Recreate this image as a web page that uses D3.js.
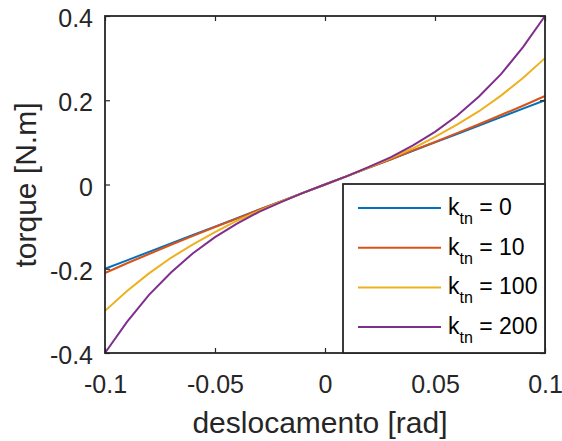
<!DOCTYPE html>
<html>
<head>
<meta charset="utf-8">
<script src="https://cdn.jsdelivr.net/npm/d3@7"></script>
<style>
body { margin: 0; background: #fff; }
svg text { font-family: "Liberation Sans", Arial, sans-serif; fill: #262626; }
</style>
</head>
<body>
<div id="chart"></div>
<script>
var w = 562, h = 441;
var margin = {top: 16, right: 17, bottom: 88, left: 105};

// deslocamento [rad]
var xs = [-0.1, -0.09, -0.08, -0.07, -0.06, -0.05, -0.04, -0.03, -0.02, -0.01, 0,
          0.01, 0.02, 0.03, 0.04, 0.05, 0.06, 0.07, 0.08, 0.09, 0.1];

// torque [N.m] for each k_tn
var t0 = [-0.2, -0.18, -0.16, -0.14, -0.12, -0.1, -0.08, -0.06, -0.04, -0.02, 0,
          0.02, 0.04, 0.06, 0.08, 0.1, 0.12, 0.14, 0.16, 0.18, 0.2];
var t10 = [-0.21, -0.187, -0.165, -0.143, -0.122, -0.101, -0.081, -0.06, -0.04, -0.02, 0,
           0.02, 0.04, 0.06, 0.081, 0.101, 0.122, 0.143, 0.165, 0.187, 0.21];
var t100 = [-0.3, -0.253, -0.211, -0.174, -0.142, -0.113, -0.086, -0.063, -0.041, -0.02, 0,
            0.02, 0.041, 0.063, 0.086, 0.113, 0.142, 0.174, 0.211, 0.253, 0.3];
var t200 = [-0.4, -0.326, -0.262, -0.209, -0.163, -0.125, -0.093, -0.065, -0.042, -0.02, 0,
            0.02, 0.042, 0.065, 0.093, 0.125, 0.163, 0.209, 0.262, 0.326, 0.4];

var labels = ["0", "10", "100", "200"];
var colors = ["#0072BD", "#D95319", "#EDB120", "#7E2F8E"];
var series = [t0, t10, t100, t200];

var xticks = [-0.1, -0.05, 0, 0.05, 0.1];
var yticks = [-0.4, -0.2, 0, 0.2, 0.4];

var width = w - margin.left - margin.right,
    height = h - margin.top - margin.bottom;

var x = d3.scaleLinear().domain([-0.1, 0.1]).range([0, width]);
var y = d3.scaleLinear().domain([-0.4, 0.4]).range([height, 0]);

var svg = d3.select("#chart").append("svg").attr("width", w).attr("height", h);
var main = svg.append("g").attr("transform", "translate(" + margin.left + "," + margin.top + ")");

var fmt = function (d) { return d == 0 ? "0" : String(d); };

// lines
var line = d3.line()
  .x(function (d, i) { return x(xs[i]); })
  .y(function (d) { return y(d); });

main.selectAll(".curve")
  .data(series)
  .enter().append("path")
  .attr("class", "curve")
  .attr("d", line)
  .style("fill", "none")
  .style("stroke", function (d, i) { return colors[i]; })
  .style("stroke-width", 2);

// axes (ticks inward, mirrored)
var tl = 5;
var ax = main.append("g").attr("transform", "translate(0," + height + ")")
  .call(d3.axisBottom(x).tickValues(xticks).tickFormat(fmt).tickSizeInner(-tl).tickSizeOuter(0).tickPadding(22));
var ay = main.append("g")
  .call(d3.axisLeft(y).tickValues(yticks).tickFormat(fmt).tickSizeInner(-tl).tickSizeOuter(0).tickPadding(12));
ay.selectAll(".tick text").attr("dy", "0.42em");
main.append("g")
  .call(d3.axisTop(x).tickValues(xticks).tickFormat("").tickSizeInner(-tl).tickSizeOuter(0));
main.append("g").attr("transform", "translate(" + width + ",0)")
  .call(d3.axisRight(y).tickValues(yticks).tickFormat("").tickSizeInner(-tl).tickSizeOuter(0));

main.selectAll(".domain").remove();
main.selectAll(".tick line").style("stroke", "#262626").style("stroke-width", 1.2);
main.selectAll(".tick text").style("font-size", "25px").style("fill", "#262626");

main.append("rect")
  .attr("width", width).attr("height", height)
  .style("fill", "none").style("stroke", "#262626").style("stroke-width", 1.8);

// axis titles
svg.append("text")
  .attr("x", 320).attr("y", 433)
  .attr("text-anchor", "middle")
  .style("font-size", "30px")
  .text("deslocamento [rad]");

svg.append("text")
  .attr("transform", "translate(36,185) rotate(-90)")
  .attr("text-anchor", "middle")
  .style("font-size", "30px")
  .text("torque [N.m]");

// legend
var lx = 343 - margin.left, ly = 184 - margin.top;
var lw = width - lx, lh = height - ly;
var leg = main.append("g").attr("transform", "translate(" + lx + "," + ly + ")");
leg.append("rect")
  .attr("width", lw).attr("height", lh)
  .style("fill", "#fff").style("stroke", "#262626").style("stroke-width", 1.8);

var items = leg.selectAll(".item")
  .data(labels)
  .enter().append("g")
  .attr("class", "item")
  .attr("transform", function (d, i) { return "translate(0," + (24 + i * 39.7) + ")"; });

items.append("line")
  .attr("x1", 15).attr("x2", 98)
  .style("stroke", function (d, i) { return colors[i]; })
  .style("stroke-width", 2);

var tx = items.append("text")
  .attr("x", 105).attr("y", 7)
  .style("font-size", "23px")
  .style("fill", "#000");
tx.append("tspan").text("k");
tx.append("tspan").attr("dy", 9).style("font-size", "16px").text("tn");
tx.append("tspan").attr("dy", -9).text(function (d) { return " = " + d; });
</script>
</body>
</html>
